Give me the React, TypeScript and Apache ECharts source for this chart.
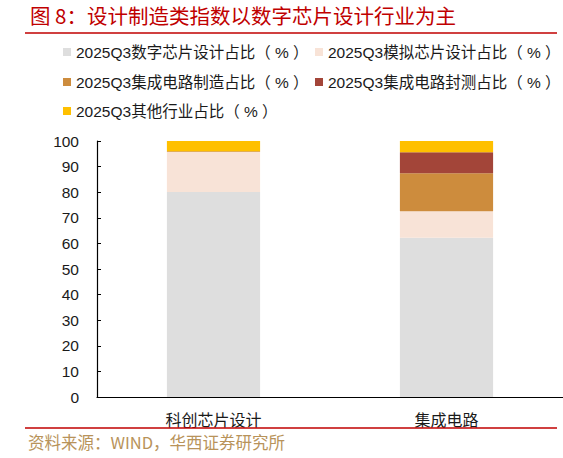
import { useEffect, useRef } from 'react';
import * as echarts from 'echarts';

const categories = ['科创芯片设计', '集成电路'];
const seriesNames = [
    '2025Q3数字芯片设计占比（%）',
    '2025Q3模拟芯片设计占比（%）',
    '2025Q3集成电路制造占比（%）',
    '2025Q3集成电路封测占比（%）',
    '2025Q3其他行业占比（%）',
];
const digitalDesign = [80.1, 62.2];
const analogDesign = [15.6, 10.4];
const manufacturing = [0.3, 14.8];
const packaging = [0, 8.2];
const others = [4.0, 4.4];
const colors = ['#DEDEDE', '#F8E3D7', '#CD8C3D', '#A34539', '#FFC000'];

const FONT = '"Liberation Sans", "Noto Sans CJK SC", sans-serif';

const App = () => {
    const chartRef = useRef<HTMLDivElement | null>(null);

    useEffect(() => {
        const chart = echarts.init(chartRef.current!, undefined, { renderer: 'svg' });
        const values = [digitalDesign, analogDesign, manufacturing, packaging, others];

        // legend items sit in two columns, three rows
        const legendPos = [
            { left: 63, top: 43 },
            { left: 315, top: 43 },
            { left: 63, top: 73 },
            { left: 315, top: 73 },
            { left: 63, top: 102 },
        ];

        const option: echarts.EChartsOption = {
            animation: false,
            textStyle: { fontFamily: FONT },
            legend: seriesNames.map((name, i) => ({
                data: [name],
                left: legendPos[i].left,
                top: legendPos[i].top,
                padding: 0,
                icon: 'rect',
                itemWidth: 8,
                itemHeight: 8,
                itemGap: 0,
                selectedMode: false,
                // the source spaces out the brackets a little
                formatter: (n: string) => n.replace('（%）', '（ % ）'),
                textStyle: { fontSize: 15.5, color: '#1a1a1a', fontFamily: FONT, lineHeight: 18 },
            })),
            grid: { left: 97, right: -14, top: 141, bottom: 61, containLabel: false },
            xAxis: {
                type: 'category',
                data: categories,
                axisLine: { lineStyle: { color: '#000', width: 1.2 } },
                axisTick: { inside: true, length: 4, lineStyle: { color: '#000' } },
                axisLabel: { fontSize: 16, color: '#1a1a1a', margin: 15, fontFamily: FONT },
            },
            yAxis: {
                type: 'value',
                min: 0,
                max: 100,
                interval: 10,
                splitLine: { show: false },
                axisLine: { show: true, lineStyle: { color: '#000', width: 1.2 } },
                axisTick: { show: true, inside: true, length: 4, lineStyle: { color: '#000' } },
                axisLabel: { fontSize: 15.5, color: '#1a1a1a', margin: 18, fontFamily: FONT },
            },
            series: seriesNames.map((name, i) => ({
                name,
                type: 'bar',
                stack: 'total',
                barWidth: '40%',
                data: values[i],
                itemStyle: { color: colors[i] },
            })),
            graphic: [
                {
                    type: 'text',
                    left: 30,
                    top: 5,
                    style: {
                        text: '图 8：设计制造类指数以数字芯片设计行业为主',
                        fontSize: 20.5,
                        fill: '#C00000',
                        fontFamily: '"Noto Sans CJK SC", sans-serif',
                    },
                },
                {
                    type: 'line',
                    shape: { x1: 25, y1: 33, x2: 557, y2: 33 },
                    style: { stroke: '#C00000', lineWidth: 1.5 },
                },
                {
                    type: 'line',
                    shape: { x1: 25, y1: 428, x2: 557, y2: 428 },
                    style: { stroke: '#C00000', lineWidth: 1.5 },
                    z: 100,
                },
                {
                    type: 'text',
                    left: 28,
                    top: 434,
                    style: {
                        text: '资料来源：WIND，华西证券研究所',
                        fontSize: 16.5,
                        fill: '#B8935A',
                        fontFamily: '"Noto Sans CJK SC", sans-serif',
                    },
                },
            ],
        };

        chart.setOption(option);
        return () => {
            chart.dispose();
        };
    }, []);

    return (
        <div
            ref={chartRef}
            style={{ position: 'fixed', left: 0, top: 0, width: 563, height: 458, background: '#fff' }}
        />
    );
};

export default App;
